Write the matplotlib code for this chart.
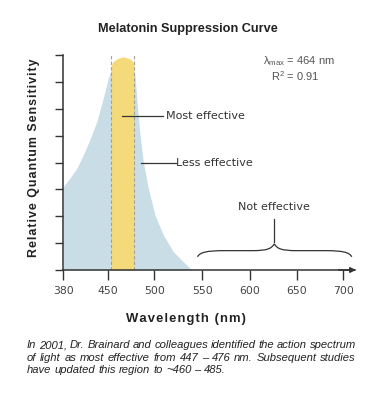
import os
import numpy as np
import matplotlib.pyplot as plt
from matplotlib import font_manager as fm
from matplotlib.path import Path
from matplotlib.patches import PathPatch

plt.rcParams["mathtext.fontset"] = "custom"
plt.rcParams["mathtext.rm"] = "Liberation Sans"

# axis ticks (the original axis is drawn slightly non-linear)
tick_nm = [380, 450, 500, 550, 600, 650, 700]
tick_pos = [0, 45, 91, 139, 186.7, 233.4, 280]
tick_labels = ["380", "450", "500", "550", "600", "650", "700"]

# melatonin suppression curve
curve_nm = [380, 390, 401, 411, 421, 432, 442, 450, 453, 460, 466, 473,
            479, 481.5, 484.5, 488, 493.5, 500.7, 509.4, 519.8, 530.2, 539]
curve_val = [3.10, 3.41, 3.78, 4.28, 4.83, 5.51, 6.38, 7.13, 7.43, 7.8, 7.9, 7.8,
             7.25, 6.13, 5.02, 4.03, 3.04, 2.04, 1.30, 0.68, 0.31, 0.0]

# "most effective" band (drawn on top of the curve)
band_nm = [453, 455, 460, 466, 473, 476, 478]
band_val = [7.6, 7.75, 7.87, 7.93, 7.87, 7.78, 7.65]

brace_lo, brace_mid, brace_hi = 545, 626, 709

caption = [
    "In 2001, Dr. Brainard and colleagues identified the action spectrum",
    "of light as most effective from 447 \u2013 476 nm. Subsequent studies",
    "have updated this region to ~460 \u2013 485.",
]

blue = "#c9dde6"
yellow = "#f5da7a"
dark = "#333333"
sans = ["Liberation Sans", "DejaVu Sans"]

# pick a normal-width italic face for the caption
cap_prop = fm.FontProperties(family="DejaVu Sans", style="italic")
for fam in ["Liberation Sans", "Arimo", "Noto Sans", "Roboto", "Open Sans", "Lato"]:
    try:
        p = fm.findfont(fm.FontProperties(family=fam, style="italic"),
                        fallback_to_default=False)
    except ValueError:
        continue
    name = os.path.basename(p).lower()
    if ("italic" in name or "oblique" in name) and "narrow" not in name \
            and "condensed" not in name:
        cap_prop = fm.FontProperties(fname=p)
        break

W, H = 388, 400
fig = plt.figure(figsize=(W / 100, H / 100), dpi=100)
ax = fig.add_axes([63.3 / W, 1 - 270 / H, (355 - 63.3) / W, (270 - 55) / H])

ext_nm = tick_nm + [800]
ext_pos = tick_pos + [280 + 100 * 0.934]


def fwd(x):
    return np.interp(x, ext_nm, ext_pos)


def inv(p):
    return np.interp(p, ext_pos, ext_nm)


ax.set_xscale("function", functions=(fwd, inv))
ax.set_xlim(380, 712.5)
ax.set_ylim(0, 8)

ax.fill_between(curve_nm, 0, curve_val, color=blue, lw=0)
ax.fill_between(band_nm, 0, band_val, color=yellow, lw=0)
for b in (band_nm[0], band_nm[-1]):
    ax.plot([b, b], [0, 8], color="#a0a0a0", lw=0.8, ls=(0, (3, 2)))

for s in ("top", "right"):
    ax.spines[s].set_visible(False)
for s in ("left", "bottom"):
    ax.spines[s].set_color(dark)
    ax.spines[s].set_linewidth(1.1)

ax.set_xticks(tick_nm)
ax.set_xticklabels(tick_labels)
ax.set_yticks(range(0, 9))
ax.set_yticklabels([])
ax.tick_params(axis="y", direction="out", length=6, width=1, color=dark)
ax.tick_params(axis="x", direction="out", length=7, width=1, color=dark,
               labelsize=7.8, labelcolor="#444444", pad=4.5)
ax.minorticks_off()

ax.annotate("", xy=(713.5, 0), xytext=(695, 0), annotation_clip=False,
            arrowprops=dict(arrowstyle="-|>", color=dark, lw=1.1,
                            mutation_scale=8, shrinkA=0, shrinkB=0))

# labels
ax.plot([464.6, 509.4], [5.74, 5.74], color=dark, lw=0.9)
ax.text(512.5, 5.74, "Most effective", fontsize=8, color=dark, va="center")
ax.plot([485.5, 522.6], [3.97, 3.97], color=dark, lw=0.9)
ax.text(522.9, 3.97, "Less effective", fontsize=8, color=dark, va="center")
ax.text(brace_mid, 2.35, "Not effective", fontsize=8, color=dark,
        ha="center", va="center")
ax.plot([brace_mid, brace_mid], [1.05, 1.9], color=dark, lw=0.9)

# curly brace
w = brace_mid - brace_lo
yb, yf, yc = 0.49, 0.72, 0.97
codes = [Path.MOVETO, Path.CURVE4, Path.CURVE4, Path.CURVE4,
         Path.LINETO, Path.CURVE4, Path.CURVE4, Path.CURVE4,
         Path.CURVE4, Path.CURVE4, Path.CURVE4,
         Path.LINETO, Path.CURVE4, Path.CURVE4, Path.CURVE4]
verts = [(brace_lo, yb), (brace_lo + 0.03 * w, 0.66), (brace_lo + 0.12 * w, yf),
         (brace_lo + 0.35 * w, yf),
         (brace_mid - 0.3 * w, yf),
         (brace_mid - 0.08 * w, yf), (brace_mid - 0.04 * w, 0.80), (brace_mid, yc),
         (brace_mid + 0.04 * w, 0.80), (brace_mid + 0.08 * w, yf),
         (brace_mid + 0.3 * w, yf),
         (brace_hi - 0.35 * w, yf),
         (brace_hi - 0.12 * w, yf), (brace_hi - 0.03 * w, 0.66), (brace_hi, yb)]
ax.add_patch(PathPatch(Path(verts, codes), fill=False, ec=dark, lw=0.9,
                       clip_on=False))

ax.text(614, 7.77, "\u03bb$_{\\mathrm{max}}$ = 464 nm", fontsize=8,
        color="#555555", va="center", family=sans)
ax.text(622, 7.21, "R$^{2}$ = 0.91", fontsize=8, color="#555555",
        va="center", family=sans)

hs = "\u200a"
fig.text(188 / W, 1 - 29.3 / H, "Melatonin Suppression Curve", ha="center",
         va="center", fontsize=9.2, fontweight="bold", color="#222222",
         family=sans)
fig.text(34 / W, 1 - 157.5 / H, hs.join("Relative Quantum Sensitivity"),
         rotation=90, ha="center", va="center", fontsize=8.9,
         fontweight="bold", color="#222222", family=sans)
fig.text(185.5 / W, 1 - 319.3 / H, hs.join("Wavelength (nm)"), ha="center",
         va="center", fontsize=9.4, fontweight="bold", color="#222222",
         family=sans)

# justified caption, one text per word
fig.canvas.draw()
r = fig.canvas.get_renderer()
left, right = 27, 356
line_y = [345.3, 357.7, 370]


def text_w(s, size):
    t = fig.text(0, 0, s, fontproperties=cap_prop, fontsize=size)
    wd = t.get_window_extent(r).width
    t.remove()
    return wd


first = caption[0].split(" ")
sp10 = text_w("a a", 10) - text_w("aa", 10)
nat10 = sum(text_w(wd, 10) for wd in first) + 0.8 * sp10 * (len(first) - 1)
cap_size = 10 * (right - left) / nat10
space_w = sp10 * cap_size / 10

for i, line in enumerate(caption):
    words = line.split(" ")
    objs = [fig.text(0, 1 - line_y[i] / H, wd, fontproperties=cap_prop,
                     fontsize=cap_size, color="#222222", va="center")
            for wd in words]
    widths = [o.get_window_extent(r).width for o in objs]
    if i < len(caption) - 1:
        gap = (right - left - sum(widths)) / (len(words) - 1)
    else:
        gap = space_w
    xp = left
    for o, wd in zip(objs, widths):
        o.set_x(xp / W)
        xp += wd + gap

fig.savefig("out.png", dpi=100)
